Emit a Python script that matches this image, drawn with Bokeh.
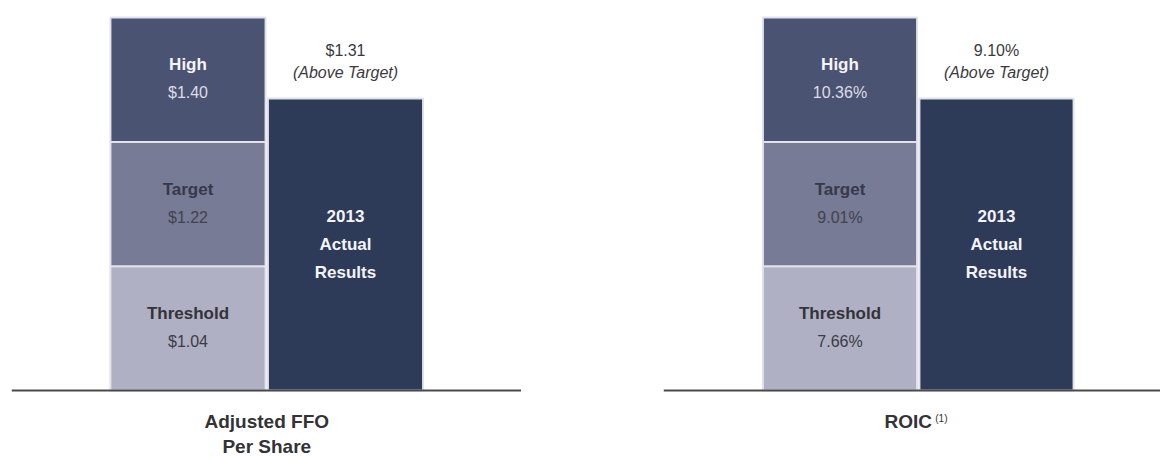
from bokeh.plotting import figure
from bokeh.models import Range1d, Span, Spacer
from bokeh.layouts import row
from bokeh.core.properties import value
from bokeh.embed import file_html
from bokeh.resources import INLINE
import numpy as np

# ---- data ----
tiers = ["Threshold", "Target", "High"]
tier_heights = [1, 1, 1]              # schematic, equal-height goal tiers
tier_colors = ["#afb0c3", "#777b96", "#4b5372"]
tier_label_colors = ["#333338", "#38384a", "#f4f4f8"]
tier_value_colors = ["#3c3c44", "#42424e", "#dcdde6"]
ffo_goals = ["$1.04", "$1.22", "$1.40"]
roic_goals = ["7.66%", "9.01%", "10.36%"]
actual_lines = ["2013", "Actual", "Results"]
actual_color = "#2d3a58"
actual_level = 2.35                   # schematic bar height (in tiers)
ffo_actual = "$1.31"
roic_actual = "9.10%"
actual_note = "(Above Target)"
ffo_title = ["Adjusted FFO", "Per Share"]
roic_title = ["ROIC"]
roic_note = "(1)"

FONT = value("Liberation Sans")
LEVEL_PX = 124.3
TOP = 8
FRAME_H = 449
BASE_FROM_TOP = 382


def panel(goals, actual_txt, titles, sup, frame_w, unit_px, center1_px, border_left):
    x_start = 1 - center1_px / unit_px
    x_end = x_start + frame_w / unit_px
    y_end = BASE_FROM_TOP / LEVEL_PX
    y_start = -(FRAME_H - BASE_FROM_TOP) / LEVEL_PX
    p = figure(width=frame_w + border_left, height=FRAME_H + TOP, output_backend="svg",
               toolbar_location=None, x_range=Range1d(x_start, x_end),
               y_range=Range1d(y_start, y_end), min_border_left=border_left,
               min_border_right=0, min_border_top=TOP, min_border_bottom=0)
    p.axis.visible = False
    p.grid.visible = False
    p.outline_line_color = None
    p.background_fill_color = "white"
    p.border_fill_color = "white"

    tops = np.cumsum(tier_heights)
    bottoms = tops - np.array(tier_heights)
    mids = (tops + bottoms) / 2.0
    n = len(tiers)
    p.vbar(x=[1] * n, bottom=bottoms, top=tops, width=0.985,
           fill_color=tier_colors, line_color="#e2e2ea", line_width=2)
    p.vbar(x=[2], bottom=[0], top=[actual_level], width=0.985,
           fill_color=actual_color, line_color="#e2e2ea", line_width=2)

    p.text(x=[1] * n, y=mids, text=tiers, text_font=FONT, text_font_style="bold",
           text_font_size="17px", text_align="center", text_baseline="middle",
           text_color=tier_label_colors, y_offset=-15)
    p.text(x=[1] * n, y=mids, text=goals, text_font=FONT,
           text_font_size="16px", text_align="center", text_baseline="middle",
           text_color=tier_value_colors, y_offset=13)

    mid_a = actual_level / 2.0
    p.text(x=[2] * 3, y=[mid_a] * 3, text=actual_lines, text_font=FONT,
           text_font_style="bold", text_font_size="17px", text_align="center",
           text_baseline="middle", text_color="#f4f4f8", y_offset=[-28, 0, 28])

    p.text(x=[2], y=[actual_level], text=[actual_txt], text_font=FONT,
           text_font_size="16px", text_align="center", text_baseline="middle",
           text_color="#3a3a3e", y_offset=-48)
    p.text(x=[2], y=[actual_level], text=[actual_note], text_font=FONT,
           text_font_style="italic", text_font_size="16px", text_align="center",
           text_baseline="middle", text_color="#3a3a3e", y_offset=-26)

    p.add_layout(Span(location=0, dimension="width", line_color="#4a4a4a",
                      line_width=2))

    offs = [31, 56][:len(titles)]
    xo = -10 if sup else 0
    p.text(x=[1.5] * len(titles), y=[0] * len(titles), text=titles, text_font=FONT,
           text_font_style="bold", text_font_size="19px", text_align="center",
           text_baseline="middle", text_color="#333336", y_offset=offs, x_offset=xo)
    if sup:
        p.text(x=[1.5], y=[0], text=[sup], text_font=FONT, text_font_size="10px",
               text_align="left", text_baseline="middle", text_color="#333336",
               y_offset=28, x_offset=17)
    return p


p1 = panel(ffo_goals, ffo_actual, ffo_title, None, 510, 157.5, 176.5, 11)
p2 = panel(roic_goals, roic_actual, roic_title, roic_note, 497, 156.5, 176.5, 0)
layout = row(p1, Spacer(width=142, height=FRAME_H + TOP), p2)

open("out.html", "w").write(file_html(layout, INLINE))
